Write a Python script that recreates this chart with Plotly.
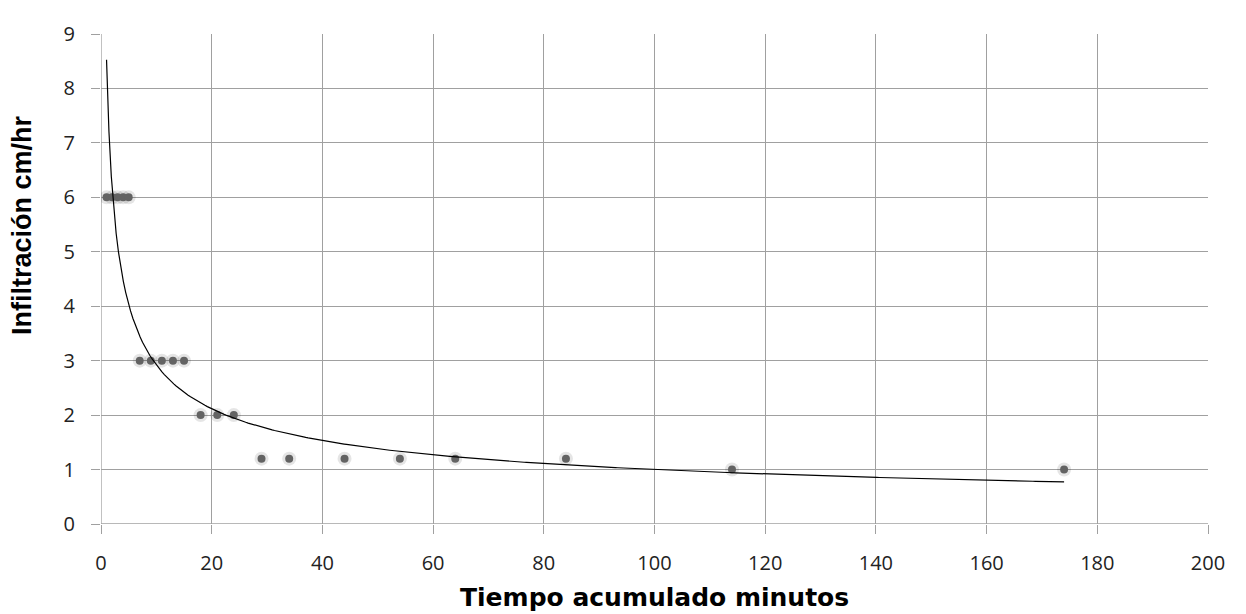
import numpy as np
import plotly.graph_objects as go

tiempo = [1, 2, 3, 4, 5, 7, 9, 11, 13, 15, 18, 21, 24, 29, 34, 44, 54, 64, 84, 114, 174]
infiltracion = [6, 6, 6, 6, 6, 3, 3, 3, 3, 3, 2, 2, 2, 1.2, 1.2, 1.2, 1.2, 1.2, 1.2, 1, 1]
x_ticks = [0, 20, 40, 60, 80, 100, 120, 140, 160, 180, 200]
y_ticks = [0, 1, 2, 3, 4, 5, 6, 7, 8, 9]

# Power trendline (least squares in log-log space), as in the spreadsheet
b, ln_a = np.polyfit(np.log(tiempo), np.log(infiltracion), 1)
a = np.exp(ln_a)
xt = np.linspace(min(tiempo), max(tiempo), 400)
yt = a * xt ** b

fig = go.Figure()
# soft shadow under points
fig.add_trace(go.Scatter(x=tiempo, y=infiltracion, mode="markers",
                         marker=dict(size=14, color="rgba(0,0,0,0.10)", line=dict(width=0)),
                         hoverinfo="skip", showlegend=False))
fig.add_trace(go.Scatter(x=tiempo, y=infiltracion, mode="markers",
                         marker=dict(size=8, color="#636363", line=dict(width=0)),
                         showlegend=False))
fig.add_trace(go.Scatter(x=xt, y=yt, mode="lines",
                         line=dict(color="black", width=1.2), showlegend=False))

axis_common = dict(showgrid=True, gridcolor="#a0a0a0", gridwidth=1.3,
                   showline=False, zeroline=False,
                   ticks="outside", ticklen=9, tickcolor="#a0a0a0", tickwidth=1.3,
                   ticklabelstandoff=12,
                   tickfont=dict(family="Open Sans, DejaVu Sans, sans-serif", size=20, color="#222"))

fig.update_xaxes(range=[0, 200], tickvals=x_ticks, **axis_common)
fig.update_yaxes(range=[0, 9], tickvals=y_ticks, **axis_common)

# axis lines at zero in gridline colour
fig.add_shape(type="line", xref="x", yref="paper", x0=0, x1=0, y0=0, y1=1,
              line=dict(color="#a0a0a0", width=1.3), layer="below")
fig.add_shape(type="line", xref="paper", yref="y", x0=0, x1=1, y0=0, y1=0,
              line=dict(color="#a0a0a0", width=1.3), layer="below")

fig.add_annotation(text="Tiempo acumulado minutos", xref="paper", yref="paper",
                   x=0.5, y=0, xanchor="center", yanchor="middle", yshift=-73,
                   showarrow=False,
                   font=dict(family="DejaVu Sans, Liberation Sans, sans-serif", size=25,
                             color="black", weight="bold"))
fig.add_annotation(text="Infiltración cm/hr", xref="paper", yref="paper",
                   x=0, y=0.61, xanchor="center", yanchor="middle", xshift=-79,
                   textangle=-90, showarrow=False,
                   font=dict(family="Liberation Sans, Arial, sans-serif", size=27,
                             color="black", weight="bold"))

fig.update_layout(width=1238, height=606, margin=dict(l=93, r=38, t=14, b=90),
                  paper_bgcolor="white", plot_bgcolor="white")

fig.write_html("out.html")
